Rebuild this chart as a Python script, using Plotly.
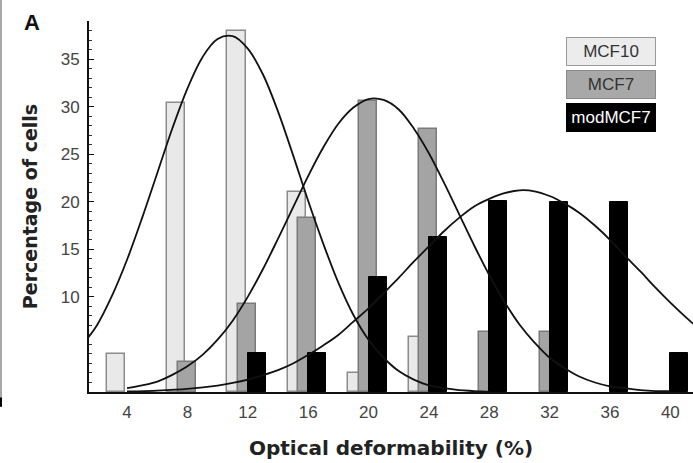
import plotly.graph_objects as go

# ---- data ----
categories = [4, 8, 12, 16, 20, 24, 28, 32, 36, 40]
mcf10 = [4.0, 30.4, 38.0, 21.0, 2.0, 5.8, None, None, None, None]
mcf7 = [None, 3.2, 9.3, 18.3, 30.6, 27.6, 6.3, 6.3, None, None]
modmcf7 = [None, None, 4.1, 4.1, 12.1, 16.3, 20.1, 20.0, 20.0, 4.1]

# fitted curves
fit_x1 = [1.0, 2, 3, 4, 5, 6, 7, 8, 9, 10, 11, 12, 13, 14, 15, 16, 17, 18, 19, 20, 21, 22, 23, 24, 25, 26, 27, 28]
fit_y1 = [4.9, 7.0, 10.1, 13.9, 18.3, 23.0, 27.7, 31.9, 35.2, 37.1, 37.4, 36.1, 33.4, 29.5, 24.9, 20.1, 15.6, 11.5,
          8.1, 5.5, 3.6, 2.2, 1.3, 0.7, 0.4, 0.2, 0.1, 0.0]
fit_x2 = [4, 5, 6, 7, 8, 9, 10, 11, 12, 13, 14, 15, 16, 17, 18, 19, 20, 21, 22, 23, 24, 25, 26, 27, 28, 29, 30,
          31, 32, 33, 34, 35, 36, 37, 38, 39, 40]
fit_y2 = [0.4, 0.7, 1.1, 1.8, 2.7, 3.9, 5.5, 7.5, 10.0, 12.9, 16.1, 19.4, 22.7, 25.7, 28.2, 29.9, 30.8, 30.7,
          29.7, 27.7, 25.1, 22.0, 18.7, 15.4, 12.3, 9.5, 7.1, 5.2, 3.6, 2.5, 1.6, 1.0, 0.6, 0.4, 0.2, 0.1, 0.1]
fit_x3 = [4, 6, 8, 10, 11, 12, 13, 14, 15, 16, 17, 18, 19, 20, 21, 22, 23, 24, 25, 26, 27, 28, 29, 30, 31, 32,
          33, 34, 35, 36, 37, 38, 39, 40, 41, 42]
fit_y3 = [0.06, 0.15, 0.33, 0.68, 0.95, 1.3, 1.76, 2.3, 3.0, 3.9, 4.9, 6.0, 7.4, 8.8, 10.4, 12.0, 13.7, 15.3,
          16.9, 18.3, 19.5, 20.3, 20.9, 21.2, 21.1, 20.6, 19.8, 18.8, 17.5, 16.0, 14.3, 12.7, 11.0, 9.4, 7.9, 6.5]

y_tick_vals = [10, 15, 20, 25, 30, 35]
y_tick_text = ["10", "15", "20", "25", "30", "35"]
x_tick_vals = [4, 8, 12, 16, 20, 24, 28, 32, 36, 40]
x_tick_text = ["4", "8", "12", "16", "20", "24", "28", "32", "36", "40"]
legend_names = ["MCF10", "MCF7", "modMCF7"]

FONT = "Liberation Sans, Arial, Helvetica, sans-serif"
TFONT = "DejaVu Sans, Liberation Sans, Arial, sans-serif"

fig = go.Figure()
bar_w = 1.2
fig.add_trace(go.Bar(x=categories, y=mcf10, width=bar_w, offset=-1.35, name="MCF10",
                     marker=dict(color="#e9e9e9", line=dict(color="#8c8c8c", width=1.5))))
fig.add_trace(go.Bar(x=categories, y=mcf7, width=bar_w, offset=-0.65, name="MCF7",
                     marker=dict(color="#a4a4a4", line=dict(color="#7a7a7a", width=1.5))))
fig.add_trace(go.Bar(x=categories, y=modmcf7, width=bar_w, offset=0.0, name="modMCF7",
                     marker=dict(color="#000000", line=dict(color="#000000", width=1))))

for fx, fy in [(fit_x1, fit_y1), (fit_x2, fit_y2), (fit_x3, fit_y3)]:
    fig.add_trace(go.Scatter(x=fx, y=fy, mode="lines", line=dict(color="#111111", width=1.8, shape="spline"),
                             showlegend=False, hoverinfo="skip"))

# legend boxes
box_styles = [("#ececec", "#9a9a9a", "#333333"), ("#a8a8a8", "#8a8a8a", "#333333"), ("#000000", "#000000", "#ffffff")]
box_y = [0.918, 0.830, 0.740]
for name, (bg, bd, fc), yy in zip(legend_names, box_styles, box_y):
    fig.add_annotation(xref="paper", yref="paper", x=0.864, y=yy, xanchor="center", yanchor="middle",
                       text=name, showarrow=False, width=88, height=27, bgcolor=bg, bordercolor=bd,
                       borderwidth=1, borderpad=0, font=dict(family=FONT, size=17, color=fc))

# panel letter
fig.add_annotation(xref="paper", yref="paper", x=-0.095, y=0.997, xanchor="center", yanchor="middle",
                   text="<b>A</b>", showarrow=False, font=dict(family=FONT, size=22, color="#111111"))

# scan-edge strip on the left
fig.add_shape(type="rect", xref="paper", yref="paper", x0=-0.1474, x1=-0.1441, y0=-0.04, y1=1.06,
              fillcolor="#a8a8a8", line=dict(width=0), layer="above")
fig.add_shape(type="rect", xref="paper", yref="paper", x0=-0.1474, x1=-0.1441, y0=-0.04, y1=-0.015,
              fillcolor="#000000", line=dict(width=0), layer="above")

fig.update_layout(
    width=693, height=463,
    margin=dict(l=89, r=0, t=21, b=71, autoexpand=False),
    paper_bgcolor="white", plot_bgcolor="white",
    barmode="overlay", bargap=0,
    showlegend=False,
    font=dict(family=FONT, color="#222222"),
)
fig.update_xaxes(range=[1.48, 41.5], showgrid=False, zeroline=False, automargin=False,
                 showline=True, linecolor="#111111", linewidth=2,
                 tickvals=x_tick_vals, ticktext=x_tick_text, ticks="", ticklabelstandoff=4,
                 tickfont=dict(family=FONT, size=17, color="#444444"),
                 title=dict(text="<b>Optical deformability (%)</b>", font=dict(family=TFONT, size=20, color="#222222"),
                            standoff=20))
fig.update_yaxes(range=[0, 39], showgrid=False, zeroline=False, automargin=False,
                 showline=True, linecolor="#111111", linewidth=2,
                 tickvals=y_tick_vals, ticktext=y_tick_text, ticks="inside", ticklen=5, tickwidth=1.2,
                 tickcolor="#111111", ticklabelstandoff=4,
                 minor=dict(dtick=1, tick0=0, ticks="inside", ticklen=3, tickwidth=1, tickcolor="#333333"),
                 tickfont=dict(family=FONT, size=17, color="#444444"),
                 title=dict(text="<b>Percentage of cells</b>", font=dict(family=TFONT, size=19, color="#222222"),
                            standoff=18))

fig.write_html("out.html", config={"displayModeBar": False},
               post_script="document.body.style.margin='0';document.body.style.overflow='hidden';")
